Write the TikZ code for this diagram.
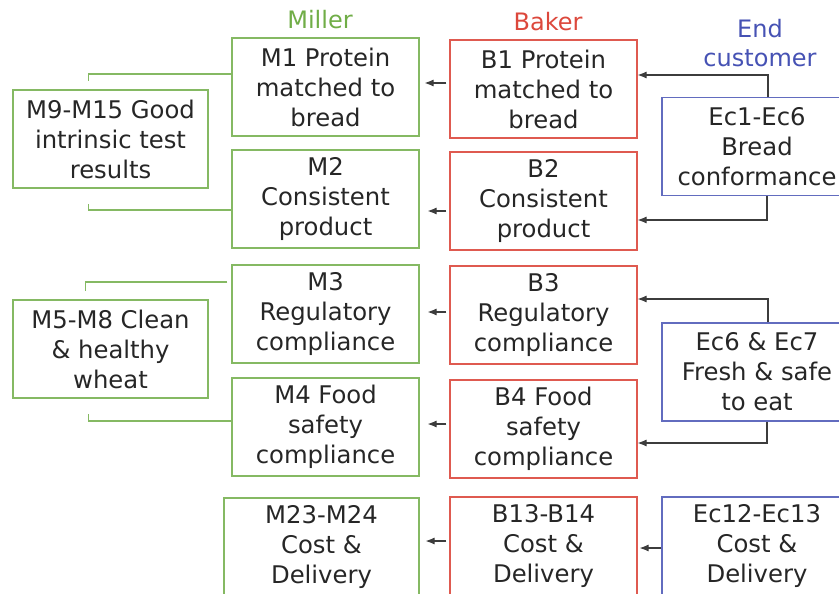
\documentclass[tikz,border=0pt]{standalone}
\usepackage{fontspec}
\setmainfont{DejaVu Sans}
\usetikzlibrary{arrows.meta, positioning}

\definecolor{millergreen}{RGB}{112,173,71}
\definecolor{bakerred}{RGB}{220,72,60}
\definecolor{custblue}{RGB}{70,82,180}
\definecolor{linkgray}{RGB}{60,60,60}

\begin{document}
\begin{tikzpicture}[x=1pt, y=-1pt, >={Latex[length=9pt,width=7pt]},
    box/.style={draw, line width=1.1pt, align=center, text=black!85,
        font=\fontsize{24.3}{30}\selectfont, inner sep=0pt, minimum height=98pt},
    mbox/.style={box, draw=millergreen!85, minimum width=187pt},
    bbox/.style={box, draw=bakerred!90, minimum width=187pt},
    ebox/.style={box, draw=custblue!85, minimum width=190pt},
    head/.style={font=\fontsize{24}{29}\selectfont, align=center},
    flow/.style={->, line width=1.1pt, draw=linkgray},
    brace/.style={line width=1.1pt, draw=millergreen!85}]

            \useasboundingbox (0,0) rectangle (839,594);
            \clip (0,0) rectangle (839,594);

            % Column headings
            \node[head, text=millergreen] (hm) at (320,20) {Miller};
            \node[head, text=bakerred] (hb) at (548,22) {Baker};
            \node[head, text=custblue] (he) at (760,43) {End\\customer};

            % Miller requirements
            \node[mbox] (m1) at (325.5,87) {M1 Protein\\matched to\\bread};
            \node[mbox] (m2) at (325.5,199) {M2\\Consistent\\product};
            \node[mbox] (m3) at (325.5,314) {M3\\Regulatory\\compliance};
            \node[mbox] (m4) at (325.5,427) {M4 Food\\safety\\compliance};
            \node[mbox, minimum width=195pt] (m23) at (321.5,547) {M23-M24\\Cost \&\\Delivery};

            \node[mbox, minimum width=195pt] (m9) at (110.5,139) {M9-M15 Good\\intrinsic test\\results};
            \node[mbox, minimum width=195pt] (m5) at (110.5,349) {M5-M8 Clean\\\& healthy\\wheat};

            % Baker requirements
            \node[bbox] (b1) at (543.5,89) {B1 Protein\\matched to\\bread};
            \node[bbox] (b2) at (543.5,201) {B2\\Consistent\\product};
            \node[bbox] (b3) at (543.5,315) {B3\\Regulatory\\compliance};
            \node[bbox] (b4) at (543.5,429) {B4 Food\\safety\\compliance};
            \node[bbox] (b13) at (543.5,546) {B13-B14\\Cost \&\\Delivery};

            % End customer requirements
            \node[ebox] (ec1) at (757,146.5) {Ec1-Ec6\\Bread\\conformance};
            \node[ebox] (ec6) at (757,372) {Ec6 \& Ec7\\Fresh \& safe\\to eat};
            \node[ebox] (ec12) at (757,546) {Ec12-Ec13\\Cost \&\\Delivery};

            % Connections: baker to miller
            \draw[flow, shorten <=3pt, shorten >=5pt] ([yshift=6pt]b1.west) -- ([yshift=4pt]m1.east);
            \draw[flow, shorten <=3pt, shorten >=8pt] ([yshift=-10pt]b2.west) -- ([yshift=-12pt]m2.east);
            \draw[flow, shorten <=3pt, shorten >=8pt] ([yshift=3pt]b3.west) -- ([yshift=2pt]m3.east);
            \draw[flow, shorten <=3pt, shorten >=8pt] ([yshift=5pt]b4.west) -- ([yshift=3pt]m4.east);
            \draw[flow, shorten <=3pt, shorten >=6pt] ([yshift=5pt]b13.west) -- ([yshift=6pt]m23.east);

            % Connections: end customer to baker
            \draw[flow] ([xshift=11pt]ec1.north) |- ([yshift=14pt]b1.east);
            \draw[flow] ([xshift=10pt]ec1.south) |- ([yshift=-19pt]b2.east);
            \draw[flow] ([xshift=11pt]ec6.north) |- ([yshift=16pt]b3.east);
            \draw[flow] ([xshift=10pt]ec6.south) |- ([yshift=-14pt]b4.east);
            \draw[flow, shorten >=2pt] ([yshift=-2pt]ec12.west) -- ([yshift=-2pt]b13.east);

            % Brackets: miller groups
            \draw[brace] ([yshift=13pt]m1.west) -| ([xshift=-22pt,yshift=8pt]m9.north);
            \draw[brace] ([yshift=-11pt]m2.west) -| ([xshift=-22pt,yshift=-15pt]m9.south);
            \draw[brace] ([xshift=-4pt,yshift=32pt]m3.west) -| ([xshift=-25pt,yshift=8pt]m5.north);
            \draw[brace] ([yshift=6pt]m4.west) -| ([xshift=-22pt,yshift=-15pt]m5.south);

        \end{tikzpicture}
\end{document}
